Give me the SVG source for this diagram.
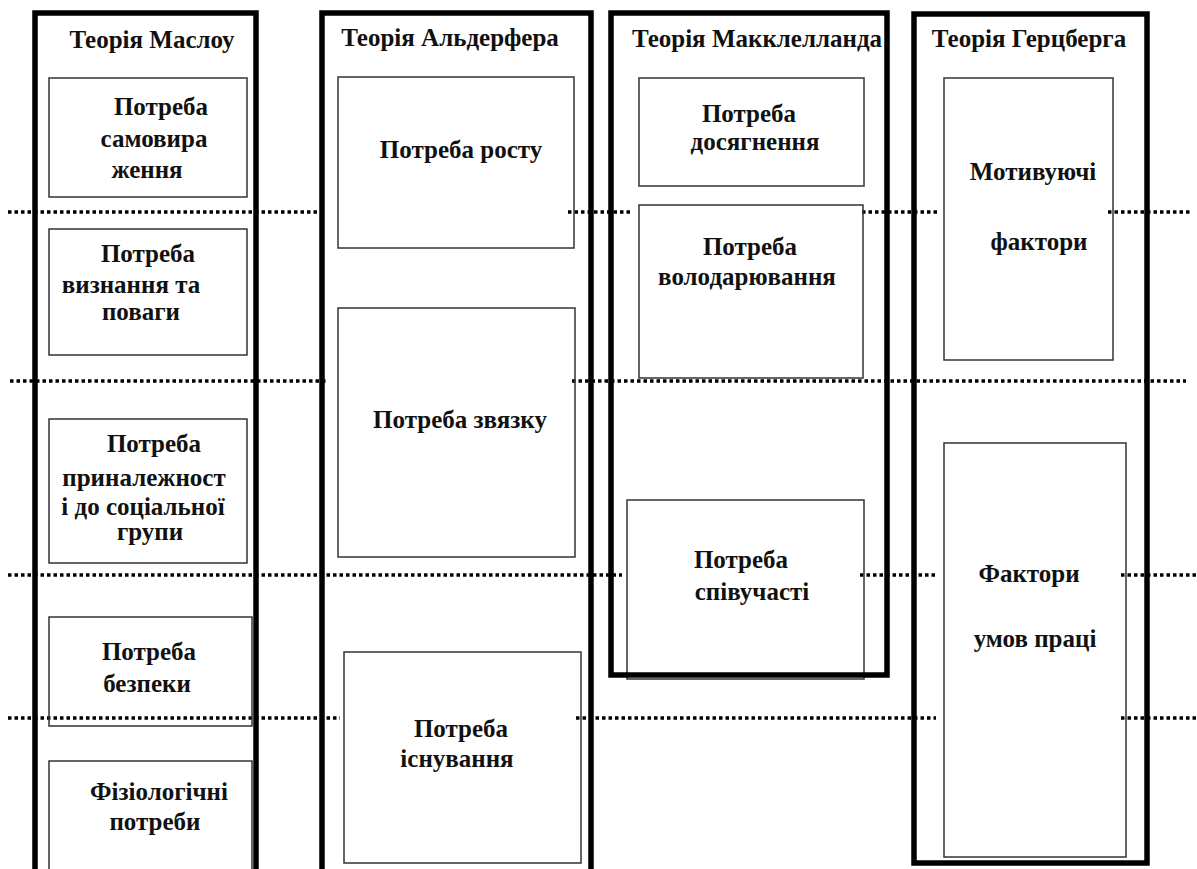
<svg xmlns="http://www.w3.org/2000/svg" width="1197" height="869" viewBox="0 0 1197 869">
<style>
.col{fill:none;stroke:#000;stroke-width:5.5}
.box{fill:none;stroke:#333;stroke-width:1.5}
.t{font-family:"Liberation Serif","Times New Roman",serif;font-weight:bold;font-size:25px;fill:#111;text-anchor:middle}
.dot{stroke:#000;stroke-width:3.5;stroke-dasharray:3.5 3;fill:none}
</style>
<rect width="1197" height="869" fill="#fff"/>
<g id="connectors">
<line class="dot" x1="8" y1="212" x2="325" y2="212"/>
<line class="dot" x1="568" y1="212" x2="630" y2="212"/>
<line class="dot" x1="862" y1="212" x2="938" y2="212"/>
<line class="dot" x1="1108" y1="212" x2="1190" y2="212"/>
<line class="dot" x1="10" y1="381" x2="327" y2="381"/>
<line class="dot" x1="572" y1="381" x2="1186" y2="381"/>
<line class="dot" x1="8" y1="575" x2="622" y2="575"/>
<line class="dot" x1="860" y1="575" x2="936" y2="575"/>
<line class="dot" x1="1121" y1="575" x2="1197" y2="575"/>
<line class="dot" x1="8" y1="718" x2="340" y2="718"/>
<line class="dot" x1="576" y1="718" x2="936" y2="718"/>
<line class="dot" x1="1121" y1="718" x2="1197" y2="718"/>
</g>
<g id="maslow">
<rect class="col" x="35" y="13" width="221" height="900"/>
<text class="t" x="152" y="48">Теорія Маслоу</text>
<g id="m1"><rect class="box" x="49" y="78" width="198" height="119"/>
<text class="t" x="161" y="115">Потреба</text><text class="t" x="154" y="147">самовира</text><text class="t" x="147" y="178">ження</text></g>
<g id="m2"><rect class="box" x="49" y="229" width="198" height="126"/>
<text class="t" x="148" y="262">Потреба</text><text class="t" x="131" y="293">визнання та</text><text class="t" x="141" y="320">поваги</text></g>
<g id="m3"><rect class="box" x="49" y="419" width="198" height="144"/>
<text class="t" x="154" y="452">Потреба</text><text class="t" x="144" y="486">приналежност</text><text class="t" x="143" y="515">і до соціальної</text><text class="t" x="150" y="540">групи</text></g>
<g id="m4"><rect class="box" x="49" y="617" width="203" height="109"/>
<text class="t" x="149" y="660">Потреба</text><text class="t" x="147" y="692">безпеки</text></g>
<g id="m5"><rect class="box" x="49" y="761" width="203" height="130"/>
<text class="t" x="159" y="800">Фізіологічні</text><text class="t" x="155" y="830">потреби</text></g>
</g>
<g id="alderfer">
<rect class="col" x="322" y="13" width="269" height="900"/>
<text class="t" x="450" y="46">Теорія Альдерфера</text>
<g id="a1"><rect class="box" x="338" y="77" width="236" height="171"/>
<text class="t" x="461" y="158">Потреба росту</text></g>
<g id="a2"><rect class="box" x="338" y="308" width="237" height="249"/>
<text class="t" x="460" y="428">Потреба звязку</text></g>
<g id="a3"><rect class="box" x="344" y="652" width="237" height="211"/>
<text class="t" x="461" y="737">Потреба</text><text class="t" x="457" y="767">існування</text></g>
</g>
<g id="mcclelland">
<g id="k1"><rect class="box" x="639" y="78" width="225" height="108"/>
<text class="t" x="749" y="122">Потреба</text><text class="t" x="755" y="150">досягнення</text></g>
<g id="k2"><rect class="box" x="639" y="205" width="224" height="173"/>
<text class="t" x="750" y="255">Потреба</text><text class="t" x="747" y="285">володарювання</text></g>
<g id="k3"><rect class="box" x="627" y="500" width="237" height="179"/>
<text class="t" x="741" y="568">Потреба</text><text class="t" x="752" y="600">співучасті</text></g>
<rect class="col" x="611" y="13" width="276" height="662"/>
<text class="t" x="757" y="47">Теорія Макклелланда</text>
</g>
<g id="herzberg">
<rect class="col" x="914" y="14" width="233" height="849"/>
<text class="t" x="1029" y="47">Теорія Герцберга</text>
<g id="f1"><rect class="box" x="944" y="78" width="169" height="282"/>
<text class="t" x="1033" y="180">Мотивуючі</text><text class="t" x="1039" y="250">фактори</text></g>
<g id="f2"><rect class="box" x="944" y="443" width="182" height="414"/>
<text class="t" x="1029" y="582">Фактори</text><text class="t" x="1035" y="647">умов праці</text></g>
</g>
</svg>
